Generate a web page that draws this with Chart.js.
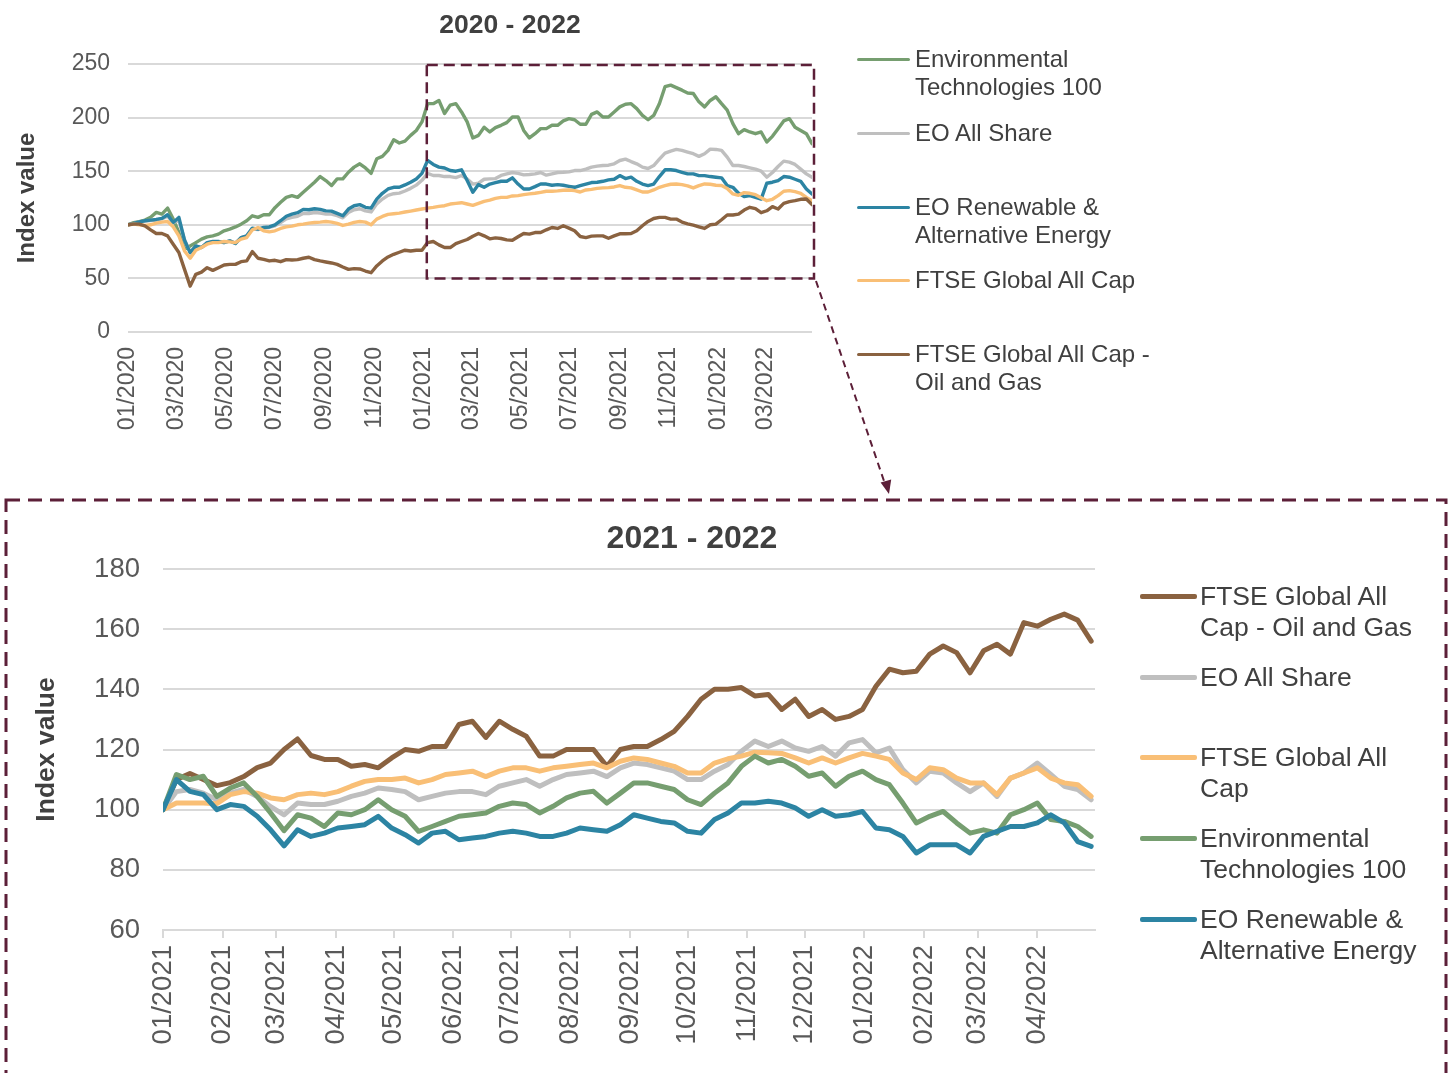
<!DOCTYPE html>
<html>
<head>
<meta charset="utf-8">
<script src="https://cdn.jsdelivr.net/npm/chart.js@4.4.1/dist/chart.umd.min.js"></script>
<style>
  body { margin:0; background:#fff; width:1453px; height:1073px; overflow:hidden; position:relative;
         font-family:"Liberation Sans", Arial, sans-serif; color:#404040; }
  canvas { position:absolute; left:0; top:0; }
  .title { position:absolute; font-weight:bold; white-space:nowrap; transform:translate(-50%,-50%); line-height:1; color:#404040; }
  .lg-line { position:absolute; border-radius:2px; }
  .lg-text { position:absolute; white-space:nowrap; color:#404040; }
  svg { position:absolute; left:0; top:0; pointer-events:none; }
</style>
</head>
<body>
<canvas id="bottomChart" width="1453" height="1073"></canvas>
<canvas id="topChart" width="1453" height="1073"></canvas>
<div class="title" style="left:510px;top:24px;font-size:26.5px">2020 - 2022</div>
<div class="title" style="left:692px;top:537px;font-size:32px">2021 - 2022</div>
<div id="legends"></div>
<svg width="1453" height="1073">
  <rect x="6" y="500" width="1440" height="700" fill="none" stroke="#5C1F38" stroke-width="3" stroke-dasharray="14 8"/>
  <line x1="816" y1="281" x2="885" y2="484" stroke="#5C1F38" stroke-width="2" stroke-dasharray="7 5"/>
  <polygon points="889,494 880.6,482.5 891.2,479.5" fill="#5C1F38"/>
</svg>
<script>
// series names and colours
const envName = "Environmental Technologies 100";
const allShareName = "EO All Share";
const renewName = "EO Renewable & Alternative Energy";
const ftseName = "FTSE Global All Cap";
const oilName = "FTSE Global All Cap - Oil and Gas";

const envColor = "#769E70";
const allShareColor = "#BFBFBF";
const renewColor = "#2C84A3";
const ftseColor = "#F9BF76";
const oilColor = "#8A6240";

// top chart: weekly values from 01/01/2020
const topStart = "2020-01-01";
const topTickLabels = ["01/2020","03/2020","05/2020","07/2020","09/2020","11/2020",
  "01/2021","03/2021","05/2021","07/2021","09/2021","11/2021","01/2022","03/2022"];

const topEnv = [100,102,103,104.4,107,111.6,110,115.6,105.3,92.8,
  77.2,80.3,83.4,86.6,88.8,89.7,91.3,94.4,96,98,
  100.6,103.8,108.4,106.9,109.4,109.4,116,121,125.6,127.2,
  125.6,130.3,135,139.7,145,141.3,136.6,142.8,142.8,149,
  153.8,156.9,153,148,161.6,163.8,169.4,179.4,176.3,178,
  183.4,188,196,213,213,216,203.8,211.6,213,
  205.3,196,181,183.4,191,186.6,190.6,192.8,195.3,200.6,
  200.6,188,181,185,189.7,189.7,192.8,192.8,196.9,199,
  198,193.8,193.8,203,205.3,200.6,200.6,205.3,210,212.5,
  213,208.4,202,198,202,213,228.8,230.3,228,225.6,
  223,222.5,214.7,210,216,219.4,213,206.9,194.4,185,
  188.8,186.6,185,186.6,177.2,182.5,189.7,196.9,199,191,
  188,185,175.6];

const topAllShare = [100,101,102.5,103.5,104,104.5,105.5,108,102,104,
  86,74.5,80,79,83,84,84,83.5,85,83,
  88,89.5,96,95.5,97,97.5,99,102,105.5,107,
  108,110.5,110.5,111.5,111,110,110,108.5,106.5,111.5,
  114,115,113,112,119.5,124,127.5,129,129.5,131.5,
  134,137,141.5,148,146,146,145,145,144,
  146,142.8,138,138.8,142.5,142.8,143.1,146,147.5,148.8,
  148,146.6,146.9,147.5,148.8,146.3,147.5,148.8,149,149.4,
  150.6,150.6,151.9,153.8,154.7,155.3,155.6,156.9,160,161.3,
  159,156.9,153.8,152.5,155.3,161.3,166.9,168.8,170.3,169.4,
  167.8,166.3,163.8,166.3,170.6,170.3,169.4,163.1,155.3,155.3,
  154.4,153.1,151.9,150,144.4,148.8,154.4,159.4,158.4,156.3,
  151.9,147.5,144.4];

const topRenew = [100,101.3,102.8,103.8,104.4,105,106,109.4,102.2,106.9,
  85.6,74,80.3,78.8,83.4,84.4,84.4,83.4,85,82.5,
  88,89.7,96.9,96,97.5,98,100,103.8,108,110,
  111.3,114.4,114,115,114.4,113,112.8,110.6,108.4,114.7,
  117.8,118.8,116.3,115.6,124,129.4,133.4,135,135,137.2,
  139.7,142.8,148,160,156.3,153.8,153,150.6,150,
  151.3,141.3,130.3,137.5,135,138,139.4,140.6,140.6,143.8,
  138,133.4,133.4,135.6,138,138,136.9,137.5,136.9,135.9,
  135,136.6,138,139.4,139.7,140.6,141.9,142.5,145.9,143.1,
  144.4,140.6,138,136.6,138,145,151.3,151.3,150.6,149,
  147.5,147.5,145.9,145.9,145,144.4,143.8,136.6,135,129.4,
  126.3,127.2,125.6,124,138.8,139.7,141.3,145,144.4,142.5,
  140.6,133.4,128.8];

const topFtse = [100,100.6,100,99.4,100,101.6,102.5,103.1,98.1,89.7,
  75.6,68.8,76.3,78.8,81.9,83.4,83.4,84.4,84.1,83.4,
  86.6,88.1,95.3,97.5,94.4,93.4,94.4,96.6,98.1,98.8,
  100,100.6,101.6,102.2,102.5,103.1,102.5,101.3,99.4,100.6,
  102.2,103.1,102.5,100,105.3,107.8,109.7,110.3,110.9,111.9,
  112.8,113.8,114.7,115.6,116.3,117.2,117.8,119.4,120,
  120.6,119.4,118.1,120,121.9,123.1,124.7,125.6,125.6,126.9,
  127.2,128.1,128.8,129.4,130.3,131.3,131.3,131.6,132.2,132.5,
  131.9,130.6,132.5,133.1,134,134.4,134.7,135.3,136.6,135,
  134.4,132.5,130.6,130.6,132.5,135,136.6,137.8,138.1,137.5,
  136.3,134.4,136.6,138.1,137.8,136.9,136.6,133.8,128.8,127.5,
  130,129.4,128.1,125.3,122.5,123.8,127.2,131.3,131.9,130.9,
  129.4,125.6,122.5];

const topOil = [100,100.6,100.6,99.1,95.3,91.9,91.9,89.7,81.9,74.1,
  58.4,42.8,53.8,55.9,60,57.5,60,62.5,63.1,63.1,
  65.6,66.3,75,68.8,67.8,66.3,66.9,65.6,67.5,67.2,
  67.5,68.8,69.7,67.5,66.3,65.3,64.4,63.1,60.6,58.4,
  59.1,58.8,56.9,55.3,61.6,66.3,70,72.5,74.4,76.3,
  75.6,76.3,76.3,83.4,84.4,81.3,78.8,78.8,82.5,
  84.4,86.3,89.4,91.9,89.7,86.9,87.8,87.2,85.9,85.6,
  88.8,91.9,91.3,92.8,92.8,95.3,97.5,96.6,99.1,96.9,
  94.4,89.1,88.1,89.4,89.7,89.7,87.5,89.7,91.6,91.6,
  91.9,94.4,99.1,103.1,105.9,106.9,106.9,105.3,105.3,102.5,
  100.9,99.7,98.1,96.6,100,100.6,104.7,109.1,109.1,110,
  113.8,116.3,115,111.3,113.1,116.9,114.7,120,121.6,122.5,
  123.8,124,118.8];

// bottom chart: weekly values from 01/01/2021, rebased to 100
const bottomStart = "2021-01-01";
const bottomTickLabels = ["01/2021","02/2021","03/2021","04/2021","05/2021","06/2021","07/2021","08/2021",
  "09/2021","10/2021","11/2021","12/2021","01/2022","02/2022","03/2022","04/2022"];

const botOil = [100,110,112,110,108,109,111,114,115.5,120,
  123.5,118,116.7,116.7,114.4,115,113.9,117.2,120,119.4,
  121,121,128.3,129.4,124,129.4,126.7,124.4,117.8,117.8,
  120,120,120,114.4,120,121,121,123.3,126,131,
  136.7,140,140,140.6,137.8,138.3,133.3,136.7,131,133.3,
  130,131,133.3,141,146.7,145.5,146,151.7,154.4,152.2,
  145.5,152.8,155,151.7,162.2,161,163.3,165,163,156];

const botAllShare = [100,106,106.7,105.5,103.3,105.5,106.7,104.4,101,98.3,
  102.2,101.7,101.7,102.8,104.4,105.5,107.2,106.7,106,103.3,
  104.4,105.5,106,106,105,107.8,108.9,110,107.8,110,
  111.7,112.2,112.8,111,113.9,115.5,115,113.9,112.8,110,
  110,112.8,115,119.4,122.8,121,122.8,120.5,119.4,121,
  117.8,122.2,123.3,118.9,120.5,113.3,108.9,112.8,112.2,108.9,
  106,108.9,104.4,110.5,112.2,115.5,111.7,107.8,106.7,103.3];

const botFtse = [100,102.2,102.2,102.2,102,105,106,105.5,103.9,103.3,
  105,105.5,105,106,107.8,109.4,110,110,110.5,108.9,
  110,111.7,112.2,112.8,111,112.8,113.9,113.9,112.8,113.9,
  114.4,115,115.5,113.9,116.1,117.2,116.7,115.5,114.4,112.2,
  112.2,115.5,116.9,117.8,119.1,118.9,118.7,117.2,115.5,117.2,
  115.5,117.2,118.7,117.8,116.7,112.2,110,113.9,113.3,110.5,
  108.9,108.9,105,110.5,112.2,113.9,110.5,108.9,108.3,104.4];

const botEnv = [100,111.7,110,111.1,104.4,107.2,108.9,104.4,98.9,93,
  98.3,97.2,94.4,98.9,98.3,100,103.3,100,97.8,92.8,
  94.4,96.1,97.8,98.3,98.9,101.1,102.2,101.7,98.9,101.1,
  103.9,105.5,106.1,102.2,105.5,108.9,108.9,107.8,106.7,103.3,
  101.7,105.5,108.9,114.4,117.8,115.5,116.7,114.4,111.1,112.2,
  107.8,111.1,112.8,110,108.3,102.2,95.6,97.8,99.4,95.6,
  92.2,93.3,92.2,98.3,100,102.2,96.7,96.1,94.4,91.1];

const botRenew = [100,110,106.1,105,100,101.7,101.1,97.8,93.3,88,
  93.3,91.1,92.2,93.9,94.4,95,97.8,93.9,91.7,88.9,
  92.2,92.8,90,90.6,91.1,92.2,92.8,92.2,91.1,91.1,
  92.2,93.9,93.3,92.8,95,98.3,97.2,96.1,95.6,92.8,
  92.2,96.7,98.9,102.2,102.2,102.8,102.2,100.6,97.8,100,
  97.8,98.3,99.4,93.9,93.3,91.1,85.6,88.3,88.3,88.3,
  85.6,91.1,92.8,94.4,94.4,95.6,98.3,95.6,89.4,87.8];

// legend texts as they wrap in the picture
const topLegendItems = [
  { color: envColor, lines: ["Environmental", "Technologies 100"] },
  { color: allShareColor, lines: ["EO All Share"] },
  { color: renewColor, lines: ["EO Renewable &", "Alternative Energy"] },
  { color: ftseColor, lines: ["FTSE Global All Cap"] },
  { color: oilColor, lines: ["FTSE Global All Cap -", "Oil and Gas"] }
];
const bottomLegendItems = [
  { color: oilColor, lines: ["FTSE Global All", "Cap - Oil and Gas"] },
  { color: allShareColor, lines: ["EO All Share"] },
  { color: ftseColor, lines: ["FTSE Global All", "Cap"] },
  { color: envColor, lines: ["Environmental", "Technologies 100"] },
  { color: renewColor, lines: ["EO Renewable &", "Alternative Energy"] }
];

const fontFamily = '"Liberation Sans", Arial, sans-serif';
const tickColor = "#595959";
const gridColor = "#D9D9D9";
const boxColor = "#5C1F38";
const DAY = 86400000;

function dayOf(dateStr, start) {
  return Math.round((Date.parse(dateStr) - Date.parse(start)) / DAY);
}
function tickDay(label, start) {
  const [m, y] = label.split("/");
  return dayOf(y + "-" + m + "-01", start);
}
function weekly(values) {
  return values.map((v, i) => ({ x: i * 7, y: v }));
}

Chart.defaults.font.family = fontFamily;

const topTickDays = topTickLabels.map(l => tickDay(l, topStart));
const bottomTickDays = bottomTickLabels.map(l => tickDay(l, bottomStart));

// dashed box showing the zoomed period
const zoomBox = {
  id: "zoomBox",
  afterDraw(chart) {
    const { ctx, scales: { x, y }, chartArea } = chart;
    const x0 = x.getPixelForValue(dayOf("2021-01-05", topStart));
    const x1 = chartArea.right + 2;
    const y0 = y.getPixelForValue(249);
    const y1 = y.getPixelForValue(50);
    ctx.save();
    ctx.setLineDash([11, 6]);
    ctx.lineWidth = 2.5;
    ctx.strokeStyle = boxColor;
    ctx.strokeRect(x0, y0, x1 - x0, y1 - y0);
    ctx.restore();
  }
};

function lineSet(name, values, color, order, width) {
  return {
    label: name, data: weekly(values), borderColor: color, backgroundColor: color,
    borderWidth: width, order: order, pointRadius: 0, tension: 0,
    borderJoinStyle: "round", borderCapStyle: "round"
  };
}

new Chart(document.getElementById("topChart"), {
  type: "line",
  data: {
    datasets: [
      lineSet(envName, topEnv, envColor, 4, 3.4),
      lineSet(allShareName, topAllShare, allShareColor, 3, 3.4),
      lineSet(renewName, topRenew, renewColor, 2, 3.4),
      lineSet(ftseName, topFtse, ftseColor, 1, 3.4),
      lineSet(oilName, topOil, oilColor, 0, 3.4)
    ]
  },
  options: {
    responsive: false, animation: false,
    layout: { padding: { left: 0, top: 64, right: 641, bottom: 0 } },
    plugins: { legend: { display: false }, tooltip: { enabled: false } },
    scales: {
      x: {
        type: "linear", min: 0, max: (topEnv.length - 1) * 7,
        grid: { display: false, drawTicks: false }, border: { display: false },
        afterBuildTicks: s => { s.ticks = topTickDays.map(v => ({ value: v })); },
        afterFit: s => { s.height = 1073 - 332; },
        ticks: {
          autoSkip: false, minRotation: 90, maxRotation: 90, padding: 15,
          color: tickColor, font: { size: 23 },
          callback: v => topTickLabels[topTickDays.indexOf(v)]
        }
      },
      y: {
        min: 0, max: 250,
        ticks: { stepSize: 50, padding: 18, color: tickColor, font: { size: 23 } },
        grid: { color: gridColor, lineWidth: 2, drawTicks: false },
        border: { display: false },
        title: { display: true, text: "Index value", color: "#404040",
                 font: { size: 24, weight: "bold" }, padding: { top: 13, bottom: 0 } },
        afterFit: s => { s.width = 128; }
      }
    }
  },
  plugins: [zoomBox]
});

new Chart(document.getElementById("bottomChart"), {
  type: "line",
  data: {
    datasets: [
      lineSet(oilName, botOil, oilColor, 4, 5),
      lineSet(allShareName, botAllShare, allShareColor, 3, 5),
      lineSet(ftseName, botFtse, ftseColor, 2, 5),
      lineSet(envName, botEnv, envColor, 1, 5),
      lineSet(renewName, botRenew, renewColor, 0, 5)
    ]
  },
  options: {
    responsive: false, animation: false,
    layout: { padding: { left: 0, top: 569, right: 358, bottom: 0 } },
    plugins: { legend: { display: false }, tooltip: { enabled: false } },
    scales: {
      x: {
        type: "linear", min: 0, max: 485,
        grid: { display: true, drawOnChartArea: false, drawTicks: true, tickLength: 8, color: gridColor, lineWidth: 2 },
        border: { display: true, color: gridColor, width: 2 },
        afterBuildTicks: s => { s.ticks = bottomTickDays.map(v => ({ value: v })); },
        afterFit: s => { s.height = 1073 - 930; },
        ticks: {
          autoSkip: false, minRotation: 90, maxRotation: 90, padding: 7,
          color: tickColor, font: { size: 27.5 },
          callback: v => bottomTickLabels[bottomTickDays.indexOf(v)]
        }
      },
      y: {
        min: 60, max: 180,
        ticks: { stepSize: 20, padding: 23, color: tickColor, font: { size: 27.5 } },
        grid: { color: gridColor, lineWidth: 2, drawTicks: false },
        border: { display: false },
        title: { display: true, text: "Index value", color: "#404040",
                 font: { size: 26.5, weight: "bold" }, padding: { top: 31, bottom: 0 } },
        afterFit: s => { s.width = 163; }
      }
    }
  }
});

// legends
function buildLegend(items, lineX, lineW, lineH, textX, ys, fontSize, lineHeight) {
  const box = document.getElementById("legends");
  items.forEach((it, i) => {
    const ln = document.createElement("div");
    ln.className = "lg-line";
    ln.style.cssText = `left:${lineX}px;top:${ys[i] - lineH / 2}px;width:${lineW}px;height:${lineH}px;background:${it.color}`;
    box.appendChild(ln);
    const tx = document.createElement("div");
    tx.className = "lg-text";
    tx.style.cssText = `left:${textX}px;top:${ys[i] - lineHeight / 2}px;font-size:${fontSize}px;line-height:${lineHeight}px`;
    tx.innerHTML = it.lines.map(s => s.replace(/&/g, "&amp;")).join("<br>");
    box.appendChild(tx);
  });
}
buildLegend(topLegendItems, 857, 53, 3, 915, [59, 133, 207, 280, 354], 24, 28);
buildLegend(bottomLegendItems, 1140, 57, 5, 1200, [596, 677, 757, 838, 919], 26.5, 31);
</script>
</body>
</html>
